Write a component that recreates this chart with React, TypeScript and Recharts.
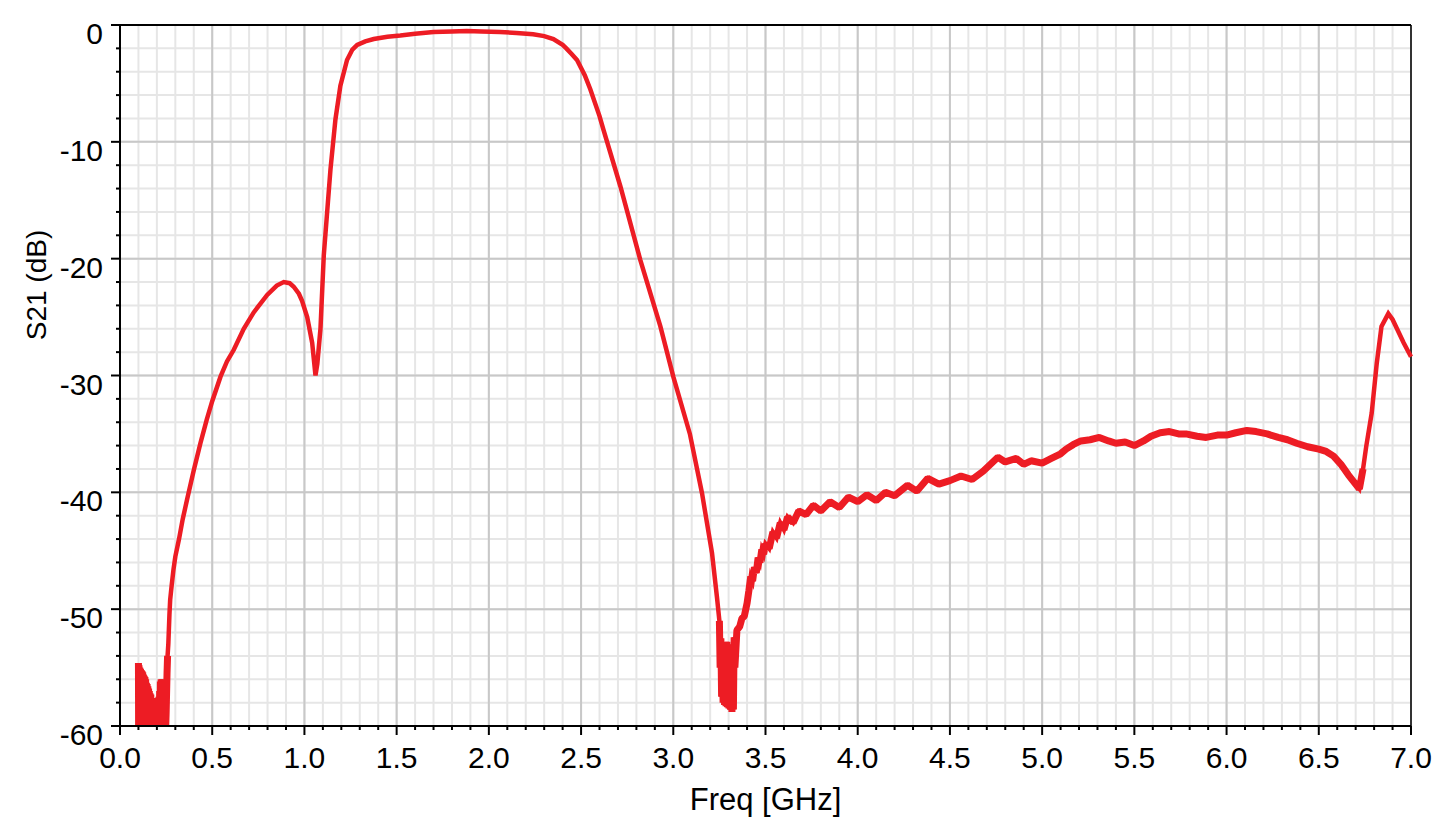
import React from 'react';
import { LineChart, Line, XAxis, YAxis, CartesianGrid, ReferenceLine, Label } from 'recharts';

// S21 trace (GHz, dB)
const freqGHz = [
  0.1, 0.101, 0.103, 0.105, 0.107, 0.109, 0.111, 0.113, 0.115, 0.117, 0.119, 0.121, 0.123, 0.125,
  0.127, 0.129, 0.131, 0.133, 0.135, 0.137, 0.139, 0.141, 0.143, 0.145, 0.147, 0.149, 0.151, 0.153,
  0.155, 0.157, 0.159, 0.161, 0.163, 0.165, 0.167, 0.169, 0.171, 0.173, 0.175, 0.177, 0.179, 0.181,
  0.183, 0.185, 0.187, 0.189, 0.191, 0.193, 0.195, 0.197, 0.199, 0.201, 0.203, 0.205, 0.207, 0.209,
  0.211, 0.213, 0.215, 0.217, 0.219, 0.221, 0.223, 0.225, 0.227, 0.229, 0.231, 0.233, 0.235, 0.237,
  0.239, 0.241, 0.243, 0.245, 0.247, 0.25, 0.255, 0.258, 0.262, 0.268, 0.272, 0.28, 0.29, 0.3, 0.32,
  0.34, 0.364, 0.4, 0.436, 0.47, 0.5, 0.545, 0.58, 0.617, 0.671, 0.725, 0.798, 0.85, 0.888, 0.92,
  0.942, 0.97, 0.987, 1.015, 1.042, 1.06, 1.07, 1.087, 1.105, 1.141, 1.168, 1.195, 1.231, 1.26, 1.286,
  1.33, 1.376, 1.45, 1.52, 1.6, 1.7, 1.8, 1.88, 1.96, 2.06, 2.15, 2.24, 2.3, 2.35, 2.4, 2.42, 2.45,
  2.478, 2.52, 2.55, 2.6, 2.622, 2.713, 2.821, 2.93, 3.0, 3.09, 3.156, 3.21, 3.237, 3.25, 3.254,
  3.258, 3.262, 3.266, 3.27, 3.274, 3.278, 3.282, 3.286, 3.29, 3.294, 3.298, 3.302, 3.306, 3.31,
  3.314, 3.318, 3.322, 3.326, 3.33, 3.334, 3.345, 3.36, 3.372, 3.385, 3.4, 3.41, 3.42, 3.43, 3.44,
  3.45, 3.46, 3.47, 3.48, 3.49, 3.5, 3.52, 3.54, 3.56, 3.58, 3.6, 3.62, 3.65, 3.68, 3.72, 3.76, 3.8,
  3.85, 3.9, 3.95, 4.0, 4.05, 4.1, 4.15, 4.2, 4.27, 4.32, 4.38, 4.44, 4.5, 4.56, 4.62, 4.68, 4.72,
  4.76, 4.8, 4.86, 4.9, 4.94, 5.0, 5.05, 5.1, 5.13, 5.17, 5.21, 5.26, 5.31, 5.36, 5.4, 5.45, 5.5,
  5.55, 5.59, 5.64, 5.69, 5.74, 5.78, 5.84, 5.89, 5.95, 6.0, 6.05, 6.11, 6.16, 6.22, 6.28, 6.33,
  6.38, 6.44, 6.5, 6.54, 6.58, 6.62, 6.66, 6.69, 6.72, 6.74, 6.757, 6.787, 6.814, 6.84, 6.877, 6.9,
  6.924, 6.96, 7.0,
];

const s21dB = [
  -54.6, -61, -54.8, -61, -55.0, -61, -55.1, -61, -55.2, -61, -55.3, -61, -55.4, -61,
  -55.6, -61, -55.7, -61, -55.8, -61, -56.0, -61, -56.3, -61, -56.4, -61, -56.6, -61,
  -56.8, -61, -57.0, -61, -57.2, -61, -57.3, -61, -57.6, -61, -57.8, -61, -57.9, -61,
  -57.9, -61, -57.9, -61, -57.8, -61, -57.8, -61, -57.7, -61, -57.6, -61, -57.6, -61,
  -57.5, -61, -57.0, -61, -56.2, -61, -56.0, -61, -56.5, -61, -57.5, -61, -58.5, -61,
  -59.5, -61, -60.5, -61, -60.5, -59.0, -55.5, -54.0, -53.0, -50.5, -49.2, -48.0, -46.6, -45.5, -44.0,
  -42.3, -40.6, -38.1, -35.8, -33.8, -32.2, -30.1, -28.8, -27.8, -26.0, -24.6, -23.1, -22.3, -22.0, -22.1,
  -22.4, -23.0, -23.6, -25.0, -27.2, -30.0, -29.0, -26.0, -19.7, -12.4, -8.1, -5.2, -3.0, -2.1, -1.7,
  -1.4, -1.2, -1.0, -0.9, -0.75, -0.6, -0.55, -0.52, -0.55, -0.6, -0.68, -0.8, -0.95, -1.2, -1.7, -2.0, -2.5,
  -3.0, -4.3, -5.5, -7.8, -9.0, -13.8, -20.1, -25.8, -30.1, -35.0, -40.1, -45.2, -49.0, -51.0, -55.0,
  -52.5, -57.5, -53.0, -58.0, -53.2, -58.2, -53.0, -58.3, -52.8, -58.4, -53.0, -58.5, -53.3, -58.6,
  -53.6, -58.8, -54.0, -58.6, -52.4, -55.0, -51.8, -51.5, -50.8, -50.6, -49.5, -48.4, -47.2, -47.6, -46.4,
  -46.9, -45.6, -46.0, -44.9, -45.3, -44.4, -44.8, -43.4, -43.9, -42.6, -43.2, -42.1, -42.6, -41.6, -41.9, -41.1, -41.6,
  -40.8, -41.3, -40.4, -40.8, -40.2, -40.7, -40.0, -40.3, -39.4, -39.9, -38.8, -39.3, -39.0, -38.6, -38.9, -38.2, -37.6,
  -37.0, -37.4, -37.1, -37.6, -37.3, -37.5, -37.1, -36.7, -36.3, -35.9, -35.6, -35.5, -35.3, -35.6, -35.8, -35.7, -36.0,
  -35.6, -35.2, -34.9, -34.8, -35.0, -35.0, -35.2, -35.3, -35.1, -35.1, -34.9, -34.7, -34.8, -35.0, -35.3, -35.5,
  -35.8, -36.1, -36.3, -36.5, -36.9, -37.6, -38.5, -39.1, -39.7, -38.0, -36.1, -33.2, -29.0, -25.8, -24.7, -25.2,
  -26.0, -27.2, -28.4,
];

// frequency spans where the measured trace is noisy (drawn as a wider band)
const noisySpans = [
  [0.1, 0.26],
  [3.25, 6.74],
];

const xMajor = [0, 0.5, 1, 1.5, 2, 2.5, 3, 3.5, 4, 4.5, 5, 5.5, 6, 6.5, 7];
const yMajor = [0, -10, -20, -30, -40, -50, -60];
const xMinor = Array.from({ length: 71 }, (_, i) => i / 10);
const yMinor = Array.from({ length: 31 }, (_, i) => -i * 2);

const chartData = freqGHz.map((f, i) => ({
  freq: f,
  s21: s21dB[i],
  noisy: noisySpans.some(([a, b]) => f >= a && f <= b) ? s21dB[i] : null,
}));

const FONT = '"Liberation Sans", Arial, sans-serif';
const RED = '#ed1c24';

function XTick({ x, y, payload }: any) {
  const v = payload.value;
  const major = Math.round(v * 10) % 5 === 0;
  return (
    <g>
      <line x1={x} x2={x} y1={y} y2={y + (major ? 9 : 4)} stroke="#000" strokeWidth={2} />
      {major && (
        <text x={x} y={y + 42} textAnchor="middle" fontSize={30} fontFamily={FONT} fill="#000">
          {v.toFixed(1)}
        </text>
      )}
    </g>
  );
}

function YTick({ x, y, payload }: any) {
  const v = payload.value;
  const major = v % 10 === 0;
  return (
    <g>
      <line x1={x} x2={x - (major ? 9 : 4)} y1={y} y2={y} stroke="#000" strokeWidth={2} />
      {major && (
        <text x={x - 17} y={y + 19} textAnchor="end" fontSize={30} fontFamily={FONT} fill="#000">
          {v}
        </text>
      )}
    </g>
  );
}

export default function App() {
  return (
    <div style={{ position: 'absolute', left: 0, top: 0, background: '#fff' }}>
      <LineChart width={1445} height={822} data={chartData} margin={{ top: 25, right: 34, bottom: 0, left: 0 }}>
        <CartesianGrid stroke="#e6e6e6" strokeWidth={2} verticalValues={xMinor} horizontalValues={yMinor} />
        <CartesianGrid stroke="#c8c8c8" strokeWidth={2} verticalValues={xMajor} horizontalValues={yMajor} />
        <XAxis
          dataKey="freq"
          type="number"
          domain={[0, 7]}
          ticks={xMinor}
          interval={0}
          height={96}
          tickSize={0}
          tickMargin={0}
          tickLine={false}
          tick={<XTick />}
          axisLine={{ stroke: '#000', strokeWidth: 2 }}
        >
          <Label
            content={({ viewBox }: any) => (
              <text
                x={viewBox.x + viewBox.width / 2}
                y={viewBox.y + 84}
                textAnchor="middle"
                fontSize={31}
                fontFamily={FONT}
                fill="#000"
              >
                Freq [GHz]
              </text>
            )}
          />
        </XAxis>
        <YAxis
          type="number"
          domain={[-60, 0]}
          allowDataOverflow
          ticks={yMinor}
          interval={0}
          width={120}
          tickSize={0}
          tickMargin={0}
          tickLine={false}
          tick={<YTick />}
          axisLine={{ stroke: '#000', strokeWidth: 2 }}
        >
          <Label
            content={({ viewBox }: any) => {
              const cx = viewBox.x + 36;
              const cy = viewBox.y + 260;
              return (
                <text
                  x={cx}
                  y={cy}
                  transform={`rotate(-90 ${cx} ${cy})`}
                  textAnchor="middle"
                  dominantBaseline="central"
                  fontSize={28}
                  fontFamily={FONT}
                  fill="#000"
                >
                  S21 (dB)
                </text>
              );
            }}
          />
        </YAxis>
        <ReferenceLine y={0} stroke="#000" strokeWidth={2} />
        <ReferenceLine x={7} stroke="#000" strokeWidth={1.5} />
        <Line
          type="linear"
          dataKey="s21"
          stroke={RED}
          strokeWidth={4.5}
          dot={false}
          isAnimationActive={false}
        />
        <Line
          type="linear"
          dataKey="noisy"
          stroke={RED}
          strokeWidth={7}
          strokeLinejoin="bevel"
          dot={false}
          isAnimationActive={false}
        />
      </LineChart>
    </div>
  );
}
